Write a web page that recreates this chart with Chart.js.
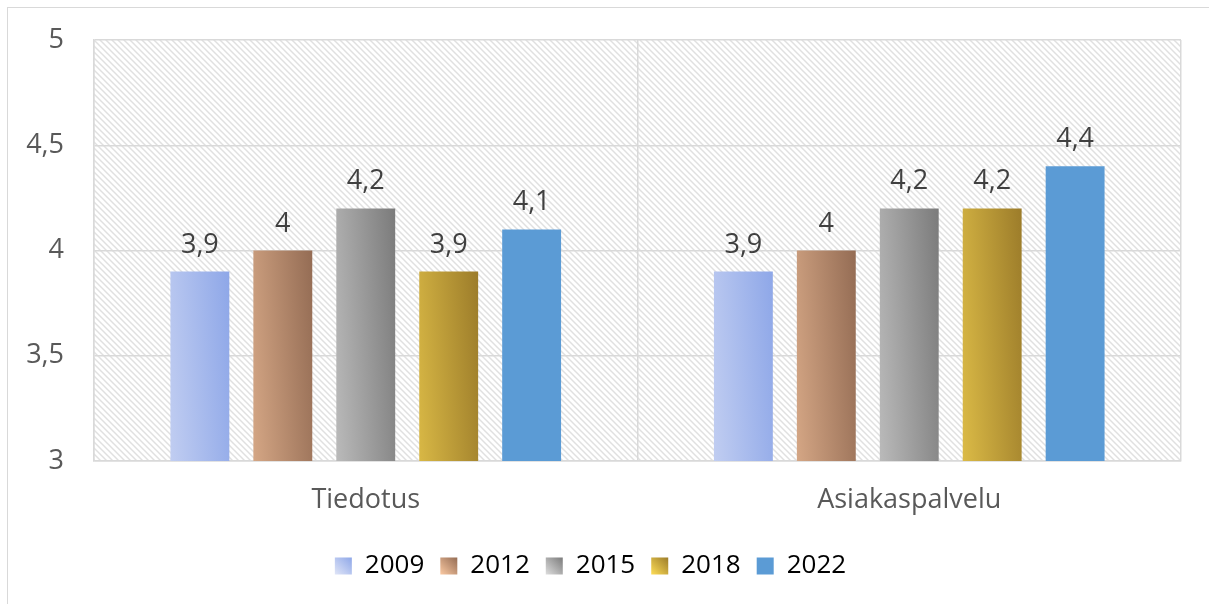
<!DOCTYPE html>
<html lang="fi">

<head>
  <meta charset="UTF-8" />
  <title>Tiedotus ja asiakaspalvelu</title>
  <script src="https://cdn.jsdelivr.net/npm/chart.js"></script>
  <style>
    body,
    html {
      margin: 0;
      width: 1209px;
      height: 604px;
      background: #ffffff;
      overflow: hidden;
    }

    .kehys {
      position: absolute;
      left: 7px;
      top: 7px;
      width: 1250px;
      height: 650px;
      border-left: 1px solid #d9d9d9;
      border-top: 1px solid #d9d9d9;
    }

    .alue {
      position: absolute;
      left: 0;
      top: 0;
      width: 1209px;
      height: 604px;
    }
  </style>
</head>

<body>
  <div class="kehys"></div>
  <div class="alue">
    <canvas id="kaavio"></canvas>
  </div>

  <script>
    const kategoriat = ['Tiedotus', 'Asiakaspalvelu'];
    const vuodet = ['2009', '2012', '2015', '2018', '2022'];
    const arvot2009 = [3.9, 3.9];
    const arvot2012 = [4.0, 4.0];
    const arvot2015 = [4.2, 4.2];
    const arvot2018 = [3.9, 4.2];
    const arvot2022 = [4.1, 4.4];
    const yTikit = [3, 3.5, 4, 4.5, 5];

    // väriliuku: vaalea vasen alakulma -> tumma oikea yläkulma
    const liukuvarit = [
      ['#e0e5f7', '#8ea7e8'],
      ['#fbc9a2', '#946c54'],
      ['#dddddd', '#7b7b7b'],
      ['#fedd56', '#9c7c2a'],
      ['#5b9bd5', '#5b9bd5']
    ];

    const fontti = "'Open Sans', sans-serif";

    function pilkku(v) {
      return String(v).replace('.', ',');
    }

    function liuku(ctx, x0, y0, w, h, varit) {
      // suunta kohtisuoraan vastalävistäjää vastaan
      const t = (2 * w * h) / (h * h + w * w);
      const g = ctx.createLinearGradient(x0, y0 + h, x0 + t * h, y0 + h - t * w);
      g.addColorStop(0, varit[0]);
      g.addColorStop(1, varit[1]);
      return g;
    }

    function raitakuvio(ctx) {
      const c = document.createElement('canvas');
      c.width = 6;
      c.height = 6;
      const k = c.getContext('2d');
      k.fillStyle = '#ffffff';
      k.fillRect(0, 0, 6, 6);
      k.strokeStyle = '#e0e0e0';
      k.lineWidth = 1.5;
      k.beginPath();
      k.moveTo(-1, -1);
      k.lineTo(7, 7);
      k.moveTo(-4, 2);
      k.lineTo(2, 8);
      k.moveTo(2, -4);
      k.lineTo(8, 2);
      k.stroke();
      return ctx.createPattern(c, 'repeat');
    }

    const taustaRaidat = {
      id: 'taustaRaidat',
      beforeDraw(chart) {
        const { ctx, chartArea: a } = chart;
        ctx.save();
        ctx.fillStyle = raitakuvio(ctx);
        ctx.fillRect(a.left, a.top, a.right - a.left, a.bottom - a.top);
        ctx.restore();
      }
    };

    const pylvasLiuut = {
      id: 'pylvasLiuut',
      beforeDatasetsDraw(chart) {
        const ctx = chart.ctx;
        chart.data.datasets.forEach((ds, i) => {
          chart.getDatasetMeta(i).data.forEach(el => {
            const p = el.getProps(['x', 'y', 'base', 'width'], true);
            const x0 = p.x - p.width / 2;
            const h = p.base - p.y;
            el.options = Object.assign({}, el.options, {
              backgroundColor: liuku(ctx, x0, p.y, p.width, h, liukuvarit[i])
            });
          });
        });
      },
      afterDatasetsDraw(chart) {
        const ctx = chart.ctx;
        ctx.save();
        ctx.font = '27px ' + fontti;
        ctx.fillStyle = '#404040';
        ctx.textAlign = 'center';
        ctx.textBaseline = 'alphabetic';
        chart.data.datasets.forEach((ds, i) => {
          chart.getDatasetMeta(i).data.forEach((el, j) => {
            ctx.fillText(pilkku(ds.data[j]), el.x, el.y - 19);
          });
        });
        ctx.restore();
      },
      afterDraw(chart) {
        const ctx = chart.ctx;
        const laatikot = chart.legend.legendHitBoxes || [];
        laatikot.forEach((b, i) => {
          const s = 17;
          const y0 = b.top + b.height / 2 - s / 2;
          ctx.save();
          ctx.fillStyle = liuku(ctx, b.left, y0, s, s, liukuvarit[i]);
          ctx.fillRect(b.left, y0, s, s);
          ctx.restore();
        });
      }
    };

    const aineisto = [arvot2009, arvot2012, arvot2015, arvot2018, arvot2022];

    new Chart(document.getElementById('kaavio'), {
      type: 'bar',
      data: {
        labels: kategoriat,
        datasets: vuodet.map((v, i) => ({
          label: v,
          data: aineisto[i],
          backgroundColor: () => liukuvarit[i][1],
          borderWidth: 0,
          categoryPercentage: 0.763,
          barPercentage: 0.71
        }))
      },
      options: {
        responsive: true,
        maintainAspectRatio: false,
        animation: false,
        layout: {
          padding: { left: 0, right: 28, top: 40, bottom: 15 }
        },
        plugins: {
          tooltip: { enabled: false },
          legend: {
            position: 'bottom',
            labels: {
              boxWidth: 17,
              boxHeight: 17,
              padding: 16,
              color: '#595959',
              font: { family: fontti, size: 26 },
              generateLabels(chart) {
                return vuodet.map((v, i) => ({
                  text: v,
                  fillStyle: 'rgba(0,0,0,0)',
                  strokeStyle: 'rgba(0,0,0,0)',
                  lineWidth: 0,
                  datasetIndex: i
                }));
              }
            }
          }
        },
        scales: {
          x: {
            offset: true,
            grid: {
              offset: true,
              color: '#d9d9d9',
              lineWidth: 1.5,
              drawTicks: false
            },
            border: { color: '#d9d9d9', width: 1.5 },
            ticks: {
              color: '#595959',
              padding: 23,
              font: { family: fontti, size: 27 }
            },
            afterFit(s) { s.height = 76; }
          },
          y: {
            min: 3,
            max: 5,
            afterBuildTicks(s) { s.ticks = yTikit.map(v => ({ value: v })); },
            grid: {
              color: '#d9d9d9',
              lineWidth: 1.5,
              drawTicks: false
            },
            border: { color: '#d9d9d9', width: 1.5 },
            ticks: {
              color: '#595959',
              padding: 30,
              font: { family: fontti, size: 27, lineHeight: 0.7 },
              callback: v => pilkku(v)
            },
            afterFit(s) { s.width = 94; }
          }
        }
      },
      plugins: [taustaRaidat, pylvasLiuut]
    });
  </script>
</body>

</html>
